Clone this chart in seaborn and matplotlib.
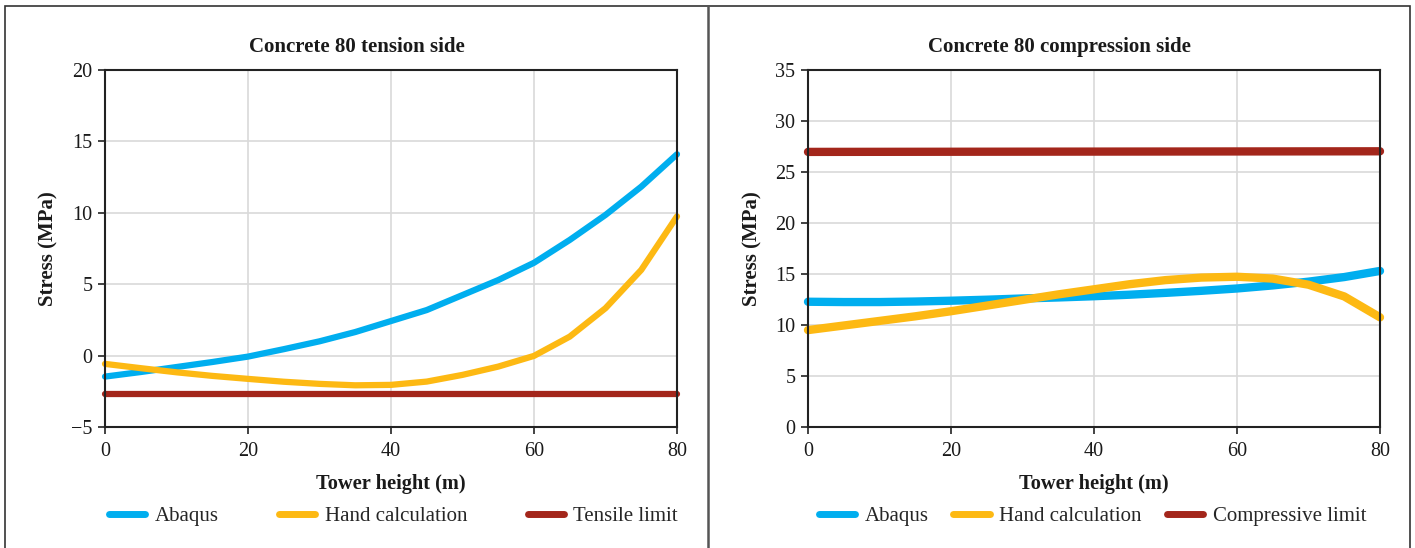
import numpy as np
import pandas as pd
import matplotlib
matplotlib.use("Agg")
import matplotlib.pyplot as plt
from matplotlib.lines import Line2D
from matplotlib.patches import Rectangle
import seaborn as sns

# ---------------- data ----------------
heights = [0, 5, 10, 15, 20, 25, 30, 35, 40, 45, 50, 55, 60, 65, 70, 75, 80]

tension_abaqus = [-1.47, -1.15, -0.8, -0.45, -0.07, 0.45, 1.0, 1.65, 2.42, 3.19,
                  4.24, 5.29, 6.5, 8.1, 9.85, 11.83, 14.1]
tension_hand = [-0.58, -0.88, -1.17, -1.42, -1.63, -1.83, -1.98, -2.08, -2.05, -1.82,
                -1.35, -0.77, -0.02, 1.33, 3.32, 6.0, 9.75]
tension_limit_x = [0, 80]
tension_limit = [-2.72, -2.72]

comp_abaqus = [12.28, 12.25, 12.25, 12.3, 12.38, 12.48, 12.6, 12.7, 12.82, 12.97,
               13.15, 13.35, 13.58, 13.88, 14.25, 14.7, 15.3]
comp_hand = [9.5, 9.95, 10.4, 10.85, 11.35, 11.9, 12.45, 13.0, 13.5, 14.0,
             14.4, 14.65, 14.73, 14.55, 13.95, 12.8, 10.75]
comp_limit_x = [0, 40, 80]
comp_limit = [26.97, 27.0, 27.03]

titles = ["Concrete 80 tension side", "Concrete 80 compression side"]
limit_names = ["Tensile limit", "Compressive limit"]
x_ticks = [0, 20, 40, 60, 80]
y_ticks_tension = [-5, 0, 5, 10, 15, 20]
y_ticks_comp = [0, 5, 10, 15, 20, 25, 30, 35]

c_abaqus = "#00AEEF"
c_hand = "#FDB913"
c_limit = "#A3261B"

# ---------------- style ----------------
sns.set_theme(style="white")
plt.rcParams["font.family"] = ["Liberation Serif", "DejaVu Serif"]
plt.rcParams["axes.unicode_minus"] = True

W, H = 1415, 548
fig = plt.figure(figsize=(W / 100, H / 100), dpi=100)

def fx(px):
    return px / W

def fy(py):
    return 1 - py / H

ax_w = fx(677) - fx(105)
ax_h = fy(70) - fy(427)
axL = fig.add_axes([fx(105), fy(427), ax_w, ax_h])
axR = fig.add_axes([fx(808), fy(427), ax_w, ax_h])

def build_df(abaqus, hand, lim_x, lim, lim_name):
    rows = []
    for h, v in zip(heights, abaqus):
        rows.append(("Abaqus", h, v))
    for h, v in zip(heights, hand):
        rows.append(("Hand calculation", h, v))
    for h, v in zip(lim_x, lim):
        rows.append((lim_name, h, v))
    return pd.DataFrame(rows, columns=["Series", "Height", "Stress"])

panels = [
    (axL, build_df(tension_abaqus, tension_hand, tension_limit_x, tension_limit, limit_names[0]),
     limit_names[0], titles[0], (-5, 20), y_ticks_tension, 4.5, 2.9, 0.4397, 0.504),
    (axR, build_df(comp_abaqus, comp_hand, comp_limit_x, comp_limit, limit_names[1]),
     limit_names[1], titles[1], (0, 35), y_ticks_comp, 6.0, 1.2, 0.4388, 0.497),
]

for ax, df, lim_name, title, ylim, yticks, lw, colsp, tx, lgx in panels:
    palette = {"Abaqus": c_abaqus, "Hand calculation": c_hand, lim_name: c_limit}
    order = ["Abaqus", "Hand calculation", lim_name]
    sns.lineplot(data=df, x="Height", y="Stress", hue="Series", hue_order=order,
                 palette=palette, linewidth=lw, ax=ax, legend=False,
                 sort=False, estimator=None)
    for ln in ax.lines:
        ln.set_solid_capstyle("round")
        ln.set_solid_joinstyle("round")
        ln.set_clip_on(False)
    ax.set_xlim(0, 80)
    ax.set_ylim(*ylim)
    ax.set_xticks(x_ticks)
    ax.set_yticks(yticks)
    ax.set_yticklabels([("\u2212%d" % -t) if t < 0 else str(t) for t in yticks])
    ax.grid(True, color="#d9d9d9", linewidth=1.2)
    ax.set_axisbelow(True)
    for s in ax.spines.values():
        s.set_visible(True)
        s.set_color("#222222")
        s.set_linewidth(1.5)
    ax.tick_params(axis="both", which="both", direction="out", length=5, width=1.2,
                   color="#222222", labelsize=14.5, pad=4, labelcolor="#1a1a1a",
                   bottom=True, left=True)
    ax.tick_params(axis="x", pad=6)
    ax.set_title(title, fontsize=15, fontweight="bold", pad=13, color="#1a1a1a", x=tx)
    ax.set_xlabel("Tower height (m)", fontsize=14.7, fontweight="bold", labelpad=9,
                  color="#1a1a1a")
    ax.set_ylabel("Stress (MPa)", fontsize=15, fontweight="bold", labelpad=9,
                  color="#1a1a1a")
    handles = [Line2D([0], [0], color=palette[k], lw=5, solid_capstyle="round") for k in order]
    ax.legend(handles, order, loc="upper center", bbox_to_anchor=(lgx, -0.2),
              ncol=3, frameon=False, fontsize=15, handlelength=1.75,
              handletextpad=0.45, columnspacing=colsp, borderaxespad=0)

# outer frame and divider
fig.add_artist(Rectangle((fx(5), fy(560)), fx(1410) - fx(5), fy(6) - fy(560),
                         transform=fig.transFigure, fill=False,
                         edgecolor="#333333", linewidth=1.2))
fig.add_artist(Line2D([fx(708), fx(708)], [0, fy(6)], transform=fig.transFigure,
                      color="#555555", linewidth=1.8))

fig.savefig("out.png", dpi=100)
